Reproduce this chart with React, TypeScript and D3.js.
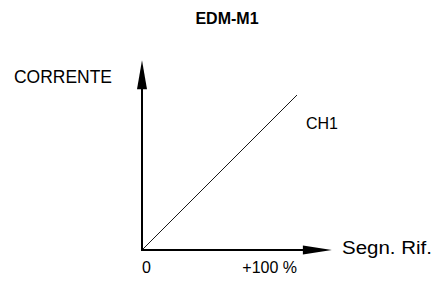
import React from 'react';
import * as d3 from 'd3';

// chart content
const title = 'EDM-M1';
const yAxisLabel = 'CORRENTE';
const xAxisLabel = 'Segn. Rif.';
const seriesName = 'CH1';
const refSignal = [0, 100];   // % of reference signal
const current = [0, 100];     // current, same scale
const xTickValues = [0, 100];
const xTickLabels = ['0', '+100 %'];
const axisEnd = 122.5;        // axes run past 100 % and end in arrows

export default function App() {
  const width = 441;
  const height = 282;
  const font = '"Liberation Sans", Arial, sans-serif';

  const x = d3.scaleLinear().domain([0, 100]).range([142, 297]);
  const y = d3.scaleLinear().domain([0, 100]).range([250, 95]);

  const points: [number, number][] = refSignal.map((v, i) => [v, current[i]]);
  const line = d3.line<[number, number]>()
    .x(d => x(d[0]))
    .y(d => y(d[1]));

  const x0 = x(0);
  const y0 = y(0);
  const xTip = x(axisEnd);
  const yTip = y(axisEnd);
  const headLen = 29;
  const headHalf = 4.5;

  const xHead = [[xTip, y0], [xTip - headLen, y0 - headHalf], [xTip - headLen, y0 + headHalf]];
  const yHead = [[x0, yTip], [x0 - headHalf - 0.5, yTip + headLen], [x0 + headHalf + 0.5, yTip + headLen]];

  return (
    <svg width={width} height={height} style={{ position: 'fixed', left: 0, top: 0, background: '#fff' }}
      fontFamily={font}>
      <rect width={width} height={height} fill="#fff" />
      <text x={227} y={24} textAnchor="middle" fontWeight="bold" fontSize={16}>{title}</text>

      {/* axes */}
      <line x1={x0} y1={y0} x2={xTip - headLen + 2} y2={y0} stroke="#000" strokeWidth={2} />
      <line x1={x0} y1={y0 + 1} x2={x0} y2={yTip + headLen - 2} stroke="#000" strokeWidth={2} />
      <polygon points={xHead.map(p => p.join(',')).join(' ')} fill="#000" />
      <polygon points={yHead.map(p => p.join(',')).join(' ')} fill="#000" />

      {/* CH1 */}
      <path d={line(points) ?? ''} fill="none" stroke="#000" strokeWidth={0.9} />

      <text x={14} y={83} fontSize={17.5} textLength={98} lengthAdjust="spacingAndGlyphs">{yAxisLabel}</text>
      <text x={342} y={254} fontSize={17.5} textLength={90} lengthAdjust="spacingAndGlyphs">{xAxisLabel}</text>
      <text x={306} y={129} fontSize={16}>{seriesName}</text>

      {xTickValues.map((v, i) => (
        <text key={v} x={x(v)} y={273} fontSize={16}
          textAnchor={i === 0 ? 'start' : 'end'}>{xTickLabels[i]}</text>
      ))}
    </svg>
  );
}
